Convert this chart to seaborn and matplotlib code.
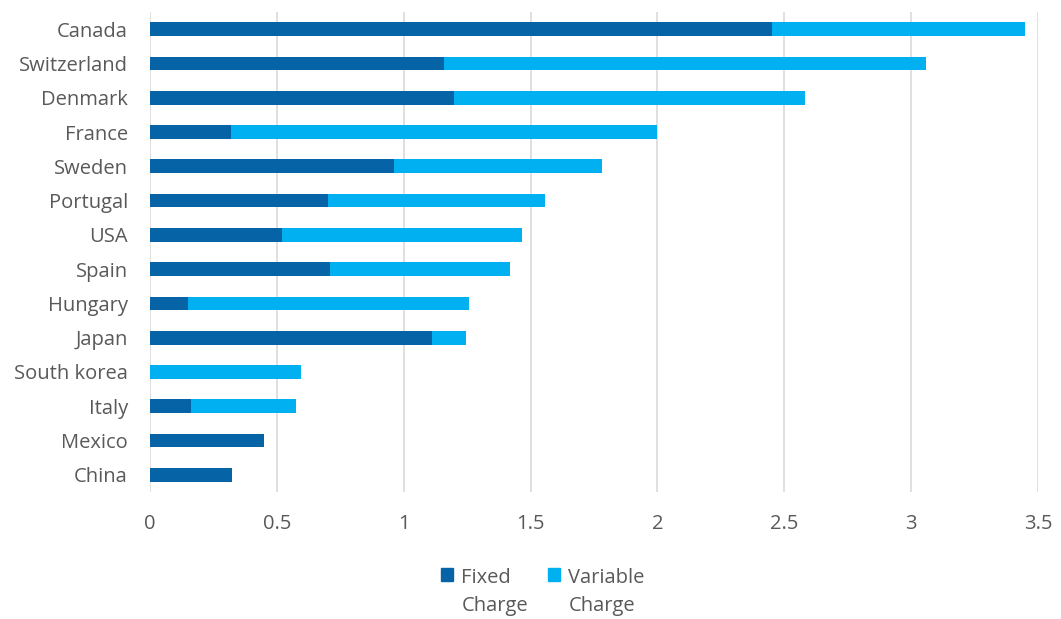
import matplotlib
matplotlib.use("Agg")
import matplotlib.pyplot as plt
import seaborn as sns
import pandas as pd
from matplotlib.patches import Patch

countries = ["Canada", "Switzerland", "Denmark", "France", "Sweden", "Portugal", "USA",
             "Spain", "Hungary", "Japan", "South korea", "Italy", "Mexico", "China"]
fixed_charge = [2.45, 1.16, 1.20, 0.32, 0.96, 0.70, 0.52, 0.71, 0.15, 1.11, 0.0, 0.16, 0.45, 0.325]
variable_charge = [1.00, 1.90, 1.38, 1.68, 0.82, 0.856, 0.946, 0.708, 1.108, 0.135, 0.595, 0.417, 0.0, 0.0]
xticks = [0, 0.5, 1, 1.5, 2, 2.5, 3, 3.5]
xtick_labels = ["0", "0.5", "1", "1.5", "2", "2.5", "3", "3.5"]

sns.set_theme(style="white")
plt.rcParams['font.family'] = ['Open Sans', 'DejaVu Sans']

df = pd.DataFrame({"country": countries, "fixed": fixed_charge, "variable": variable_charge})
df["total"] = df["fixed"] + df["variable"]

dark = "#0563A6"
light = "#00B0F0"
text_c = "#595959"
fs = 14.5

fig = plt.figure(figsize=(10.61, 6.19), dpi=100)
ax = fig.add_axes([150/1061, (619-492)/619, 888/1061, 480/619])

sns.barplot(data=df, y="country", x="total", color=light, width=0.4, ax=ax,
            saturation=1, orient="h", order=countries, linewidth=0)
sns.barplot(data=df, y="country", x="fixed", color=dark, width=0.4, ax=ax,
            saturation=1, orient="h", order=countries, linewidth=0)

ax.set_xlim(0, 3.5)
ax.set_xticks(xticks)
ax.set_xticklabels(xtick_labels)
ax.set_xlabel("")
ax.set_ylabel("")
ax.grid(axis="x", color="#d9d9d9", linewidth=1.2)
ax.set_axisbelow(True)
for s in ax.spines.values():
    s.set_visible(False)
ax.tick_params(axis="y", length=0, pad=16, labelsize=fs, labelcolor=text_c)
ax.tick_params(axis="x", length=0, pad=16, labelsize=fs, labelcolor=text_c)

handles = [Patch(color=dark, label="Fixed\nCharge"), Patch(color=light, label="Variable\nCharge")]
leg = fig.legend(handles=handles, loc="upper center", bbox_to_anchor=(543/1061, 1 - 558/619),
                 ncol=2, frameon=False, fontsize=fs, handlelength=0.6, handleheight=0.6,
                 handletextpad=0.4, columnspacing=1.0, borderpad=0)
for t in leg.get_texts():
    t.set_color(text_c)
    t.set_linespacing(1.5)
for col in leg._legend_handle_box.get_children():
    for row in col.get_children():
        row.align = "top"

fig.savefig("out.png", dpi=100)
